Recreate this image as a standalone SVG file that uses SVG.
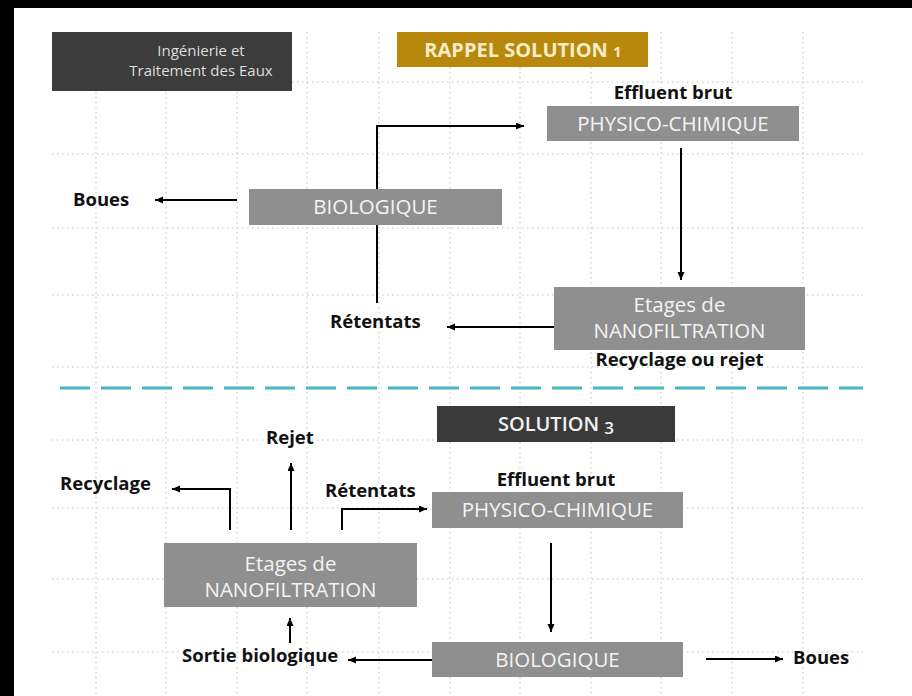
<svg xmlns="http://www.w3.org/2000/svg" width="912" height="696" viewBox="0 0 912 696">
<style>
.grid line{stroke:#c2c2c2;stroke-width:1;stroke-dasharray:1.5 3.5}
.box{fill:#8f8f8f}
.bt{font-family:"Open Sans","Noto Sans",sans-serif;font-size:20.5px;fill:#f4f4f4;text-anchor:middle}
.lbl{font-family:"Open Sans","Noto Sans",sans-serif;font-size:18.5px;font-weight:bold;fill:#111}
.mid{text-anchor:middle}
.conn path{fill:none;stroke:#000;stroke-width:2;marker-end:url(#ah)}
</style>
<defs>
<marker id="ah" markerUnits="userSpaceOnUse" markerWidth="9" markerHeight="8" refX="8" refY="3.5" orient="auto">
<path d="M0,0 L8,3.5 L0,7 z" fill="#000"/>
</marker>
</defs>
<rect x="0" y="0" width="912" height="696" fill="#fff"/>
<g class="grid">
<line x1="96" y1="32" x2="96" y2="696"/>
<line x1="166" y1="32" x2="166" y2="696"/>
<line x1="237" y1="32" x2="237" y2="696"/>
<line x1="307" y1="32" x2="307" y2="696"/>
<line x1="379" y1="32" x2="379" y2="696"/>
<line x1="450" y1="32" x2="450" y2="696"/>
<line x1="520" y1="32" x2="520" y2="696"/>
<line x1="591" y1="32" x2="591" y2="696"/>
<line x1="661" y1="32" x2="661" y2="696"/>
<line x1="732" y1="32" x2="732" y2="696"/>
<line x1="803" y1="32" x2="803" y2="696"/>
<line x1="52" y1="82" x2="863" y2="82"/>
<line x1="52" y1="154" x2="863" y2="154"/>
<line x1="52" y1="228" x2="863" y2="228"/>
<line x1="52" y1="295" x2="863" y2="295"/>
<line x1="52" y1="367" x2="863" y2="367"/>
<line x1="52" y1="440" x2="863" y2="440"/>
<line x1="52" y1="508" x2="863" y2="508"/>
<line x1="52" y1="579" x2="863" y2="579"/>
<line x1="52" y1="652" x2="863" y2="652"/>
</g>
<rect x="0" y="0" width="912" height="8" fill="#000"/>
<rect x="0" y="0" width="14" height="696" fill="#000"/>
<line x1="60" y1="388" x2="863" y2="388" stroke="#44b8c6" stroke-width="3" stroke-dasharray="30 11"/>
<g class="conn">
<path d="M237,200 H155"/>
<path d="M377,303 V126 H524"/>
<path d="M681,148 V280"/>
<path d="M554,327 H447"/>
<path d="M230,530 V489 H172"/>
<path d="M291,530 V463"/>
<path d="M342,530 V509 H427"/>
<path d="M551,543 V632"/>
<path d="M432,660 H348"/>
<path d="M290,643 V618"/>
<path d="M706,659 H783"/>
</g>
<g id="header">
<rect x="52" y="32" width="240" height="59" fill="#3c3c3c"/>
<text x="201" y="56" font-family="Open Sans, Noto Sans, sans-serif" font-size="15" fill="#dedede" text-anchor="middle">Ingénierie et</text>
<text x="201" y="76" font-family="Open Sans, Noto Sans, sans-serif" font-size="15" fill="#dedede" text-anchor="middle">Traitement des Eaux</text>
</g>
<g id="rappel">
<rect x="397" y="32" width="251" height="35" fill="#b8880c"/>
<text x="523" y="57" font-family="Open Sans, Noto Sans, sans-serif" font-size="20" font-weight="bold" fill="#f7ecc8" text-anchor="middle">RAPPEL SOLUTION <tspan font-size="15">1</tspan></text>
</g>
<g id="effluent1"><text class="lbl mid" x="673" y="99">Effluent brut</text></g>
<g id="physico1">
<rect class="box" x="547" y="106" width="252" height="35"/>
<text class="bt" x="673" y="131">PHYSICO-CHIMIQUE</text>
</g>
<g id="bio1">
<rect class="box" x="249" y="189" width="253" height="36"/>
<text class="bt" x="375.5" y="214">BIOLOGIQUE</text>
</g>
<g id="boues1"><text class="lbl" x="73" y="206">Boues</text></g>
<g id="nano1">
<rect class="box" x="554" y="287" width="251" height="63"/>
<text class="bt" x="679.5" y="312">Etages de</text>
<text class="bt" x="679.5" y="338">NANOFILTRATION</text>
</g>
<g id="retentats1"><text class="lbl" x="330" y="328">Rétentats</text></g>
<g id="recyrej"><text class="lbl mid" x="679.5" y="366">Recyclage ou rejet</text></g>
<g id="sol3">
<rect x="437" y="406" width="238" height="36" fill="#3a3a3a"/>
<text x="556" y="431" font-family="Open Sans, Noto Sans, sans-serif" font-size="20" font-weight="600" fill="#f2f2f2" text-anchor="middle">SOLUTION <tspan font-size="17" dy="3">3</tspan></text>
</g>
<g id="rejet"><text class="lbl" x="266" y="444">Rejet</text></g>
<g id="recyclage"><text class="lbl" x="60" y="490">Recyclage</text></g>
<g id="retentats2"><text class="lbl" x="325" y="497">Rétentats</text></g>
<g id="effluent2"><text class="lbl mid" x="556" y="486">Effluent brut</text></g>
<g id="physico2">
<rect class="box" x="432" y="492" width="251" height="36"/>
<text class="bt" x="557.5" y="517">PHYSICO-CHIMIQUE</text>
</g>
<g id="nano2">
<rect class="box" x="164" y="543" width="253" height="64"/>
<text class="bt" x="290.5" y="571">Etages de</text>
<text class="bt" x="290.5" y="597">NANOFILTRATION</text>
</g>
<g id="sortie"><text class="lbl" x="182" y="662">Sortie biologique</text></g>
<g id="bio2">
<rect class="box" x="432" y="642" width="251" height="35"/>
<text class="bt" x="557.5" y="667">BIOLOGIQUE</text>
</g>
<g id="boues2"><text class="lbl" x="793" y="664">Boues</text></g>
</svg>
